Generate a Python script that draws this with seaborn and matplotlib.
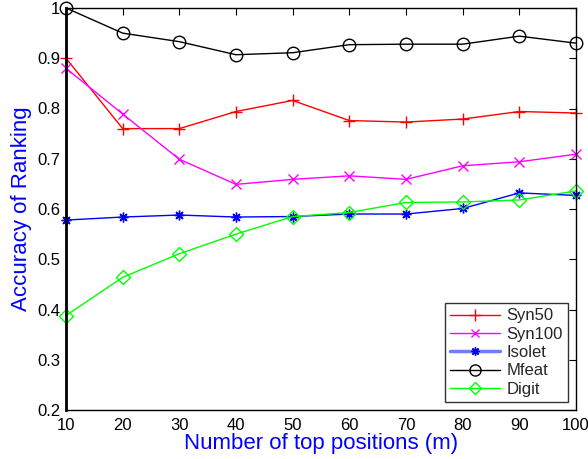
import matplotlib
matplotlib.use("Agg")
import matplotlib.pyplot as plt
import seaborn as sns
import pandas as pd
from matplotlib.lines import Line2D

# Number of top positions
m_values = [10, 20, 30, 40, 50, 60, 70, 80, 90, 100]

syn50 = [0.900, 0.760, 0.760, 0.794, 0.816, 0.776, 0.773, 0.779, 0.794, 0.791]
syn100 = [0.880, 0.789, 0.699, 0.649, 0.659, 0.666, 0.659, 0.686, 0.694, 0.709]
isolet = [0.578, 0.584, 0.588, 0.584, 0.585, 0.590, 0.590, 0.601, 0.632, 0.627]
mfeat = [1.000, 0.950, 0.933, 0.907, 0.911, 0.927, 0.928, 0.928, 0.944, 0.930]
digit = [0.388, 0.464, 0.511, 0.550, 0.585, 0.593, 0.613, 0.614, 0.618, 0.636]

series_names = ["Syn50", "Syn100", "Isolet", "Mfeat", "Digit"]
series_values = [syn50, syn100, isolet, mfeat, digit]

colors = {"Syn50": "#ff0000", "Syn100": "#ff00ff", "Isolet": "#0000ff",
          "Mfeat": "#000000", "Digit": "#00ff00"}
markers = {"Syn50": "+", "Syn100": "x", "Isolet": (8, 2, 0),
           "Mfeat": "o", "Digit": "D"}
msizes = {"Syn50": 9, "Syn100": 7, "Isolet": 7, "Mfeat": 9, "Digit": 7}

df = pd.DataFrame({
    "m": m_values * len(series_names),
    "acc": [v for vals in series_values for v in vals],
    "dataset": [n for n in series_names for _ in m_values],
})

sns.set_style("white")
plt.rcParams["font.family"] = ["Liberation Sans", "DejaVu Sans"]

fig = plt.figure(figsize=(5.88, 4.59), dpi=100)
ax = fig.add_axes([66 / 588, 49 / 459, 510 / 588, 402 / 459])

for name in series_names:
    sub = df[df["dataset"] == name]
    sns.lineplot(data=sub, x="m", y="acc", ax=ax, color=colors[name],
                 marker=markers[name], markersize=msizes[name],
                 markerfacecolor="none", markeredgecolor=colors[name],
                 markeredgewidth=1.0, linewidth=1.0, label=name,
                 legend=False, clip_on=False)

ax.set_xlim(10, 100)
ax.set_ylim(0.2, 1.0)
ax.set_xticks(m_values)
ax.set_yticks([0.2, 0.3, 0.4, 0.5, 0.6, 0.7, 0.8, 0.9, 1.0])
ax.set_yticklabels(["0.2", "0.3", "0.4", "0.5", "0.6", "0.7", "0.8", "0.9", "1"])
ax.tick_params(direction="in", length=5, width=0.8, top=True, right=True,
               labelsize=12, colors="black")
ax.tick_params(axis="x", pad=6)
ax.tick_params(axis="y", pad=4)

for side in ["top", "right", "bottom"]:
    ax.spines[side].set_linewidth(1.0)
    ax.spines[side].set_color("black")
ax.spines["left"].set_linewidth(2.0)
ax.spines["left"].set_color("black")

ax.set_xlabel("Number of top positions (m)", color="#0000ff", fontsize=16, labelpad=0)
ax.set_ylabel("Accuracy of Ranking", color="#0000ff", fontsize=16, labelpad=4)

handles = []
for name in series_names:
    lw = 2.5 if name == "Isolet" else 1.0
    lc = "#6f7dff" if name == "Isolet" else colors[name]
    handles.append(Line2D([0], [0], color=lc, linewidth=lw, marker=markers[name],
                          markersize=msizes[name] - 1, markerfacecolor="none",
                          markeredgecolor=colors[name], markeredgewidth=1.0))
leg = ax.legend(handles, series_names, loc="lower right", fontsize=12,
                frameon=True, fancybox=False, edgecolor="black",
                handlelength=3.0, borderpad=0.3, labelspacing=0.2,
                handletextpad=0.4, borderaxespad=0.5)
leg.get_frame().set_linewidth(1.0)

fig.savefig("out.png", dpi=100)
